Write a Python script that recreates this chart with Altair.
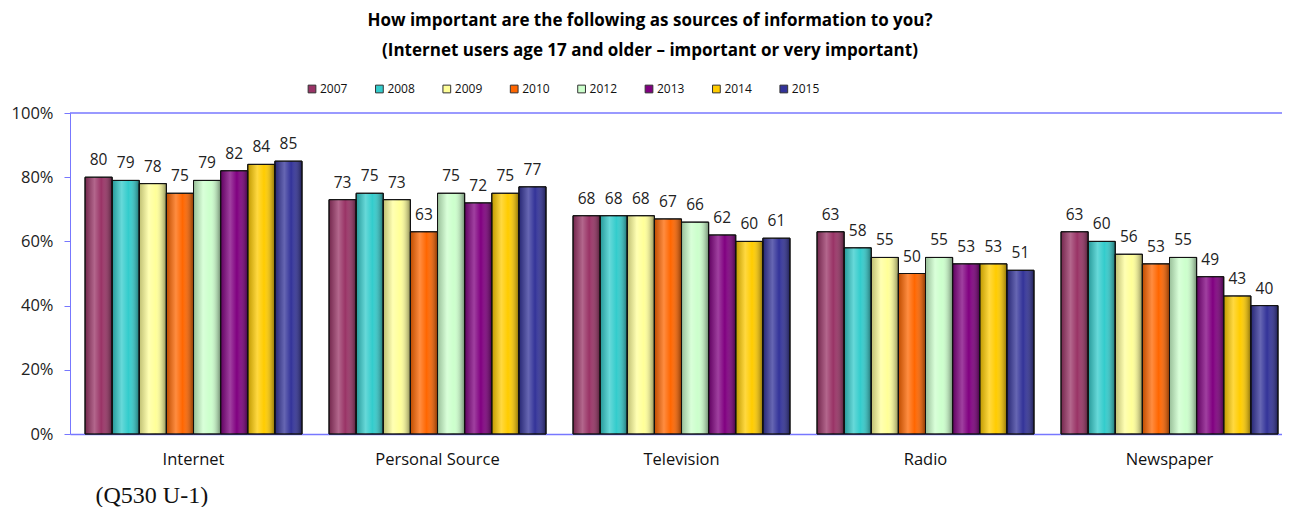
import altair as alt
import pandas as pd

categories = ["Internet", "Personal Source", "Television", "Radio", "Newspaper"]
years = ["2007", "2008", "2009", "2010", "2012", "2013", "2014", "2015"]
colors = ["#993366", "#33CCCC", "#FFFF99", "#FF6600", "#CCFFCC", "#800080", "#FFCC00", "#333399"]
values = {
    "Internet":        [80, 79, 78, 75, 79, 82, 84, 85],
    "Personal Source": [73, 75, 73, 63, 75, 72, 75, 77],
    "Television":      [68, 68, 68, 67, 66, 62, 60, 61],
    "Radio":           [63, 58, 55, 50, 55, 53, 53, 51],
    "Newspaper":       [63, 60, 56, 53, 55, 49, 43, 40],
}
title_lines = ["How important are the following as sources of information to you?",
               "(Internet users age 17 and older \u2013 important or very important)"]
footnote = "(Q530 U-1)"

rows = []
for c in categories:
    for y, v in zip(years, values[c]):
        rows.append({"source": c, "year": y, "value": v})
df = pd.DataFrame(rows)

FONT = "Open Sans"
AXIS_BLUE = "#7777FF"

x_enc = alt.X("source:N", sort=categories,
              scale=alt.Scale(paddingInner=0.1107, paddingOuter=0.039, align=0.79),
              axis=alt.Axis(title=footnote, titleFont="Liberation Serif", titleFontSize=24,
                            titleFontWeight="normal", titleColor="#111", titleAnchor="start",
                            titleAlign="left", titleBaseline="alphabetic", titleX=25, titleY=68,
                            labelAngle=0, labelFont=FONT, labelFontSize=16.5, labelColor="#111",
                            labelPadding=17, ticks=False, domainColor=AXIS_BLUE, domainWidth=1.5))
xo_enc = alt.XOffset("year:N", sort=years, scale=alt.Scale(paddingInner=0, paddingOuter=0))
y_axis = alt.Axis(title=None, format=".0%", values=[0, 0.2, 0.4, 0.6, 0.8, 1.0],
                  labelFont=FONT, labelFontSize=16.5, labelColor="#222", labelPadding=11,
                  tickColor=AXIS_BLUE, tickSize=6, domainColor=AXIS_BLUE, grid=False)
y_enc = alt.Y("v:Q", scale=alt.Scale(domain=[0, 1]), axis=y_axis)

base = alt.Chart(df).transform_calculate(v="datum.value / 100")

bars = base.mark_bar(stroke="#111", strokeWidth=1).encode(
    x=x_enc, xOffset=xo_enc, y=y_enc,
    color=alt.Color("year:N", sort=years,
                    scale=alt.Scale(domain=years, range=colors),
                    legend=alt.Legend(title=None, orient="none", direction="horizontal",
                                      legendX=236, legendY=-30, symbolType="square",
                                      symbolSize=60, symbolStrokeColor="#333", symbolStrokeWidth=1,
                                      labelFont=FONT, labelFontSize=12, labelColor="#111",
                                      labelOffset=2, columnPadding=25.4)),
)

shade = base.mark_bar(
    color={"gradient": "linear", "x1": 0, "y1": 0, "x2": 1, "y2": 0,
           "stops": [{"offset": 0, "color": "rgba(0,0,0,0.25)"},
                     {"offset": 0.35, "color": "rgba(255,255,255,0.25)"},
                     {"offset": 0.6, "color": "rgba(255,255,255,0.0)"},
                     {"offset": 1, "color": "rgba(0,0,0,0.45)"}]},
    stroke="#111", strokeWidth=1,
).encode(x=x_enc, xOffset=xo_enc, y=y_enc)

labels = base.mark_text(baseline="bottom", dy=-9, font=FONT, fontSize=15.5, color="#222").encode(
    x=x_enc, xOffset=xo_enc, y=y_enc, text=alt.Text("value:Q"))

top_rule = alt.Chart(pd.DataFrame({"v": [1.0]})).mark_rule(color=AXIS_BLUE, strokeWidth=1.5).encode(
    y=y_enc)

chart = alt.layer(bars, shade, labels, top_rule).properties(
    width=1212, height=321,
    padding={"left": 62, "top": 105, "right": 0, "bottom": 73},
    autosize=alt.AutoSizeParams(type="none"),
    title=alt.TitleParams(text=title_lines, anchor="middle", frame="group", font=FONT,
                          fontSize=17, fontWeight="bold", color="#000", lineHeight=30,
                          offset=23, dx=-26),
).configure_view(stroke=None)

chart.save("out.html", embed_options={"renderer": "svg", "actions": False})
